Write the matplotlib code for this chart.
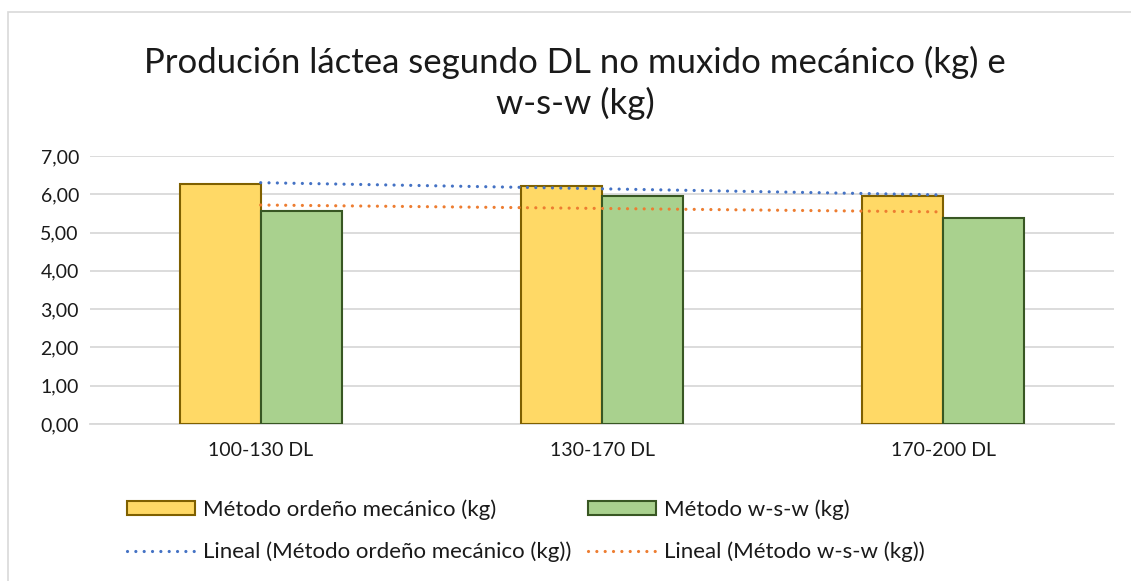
import matplotlib
matplotlib.use("Agg")
import matplotlib.pyplot as plt
import numpy as np
from matplotlib.patches import Rectangle, Patch
from matplotlib.lines import Line2D
from matplotlib.ticker import FuncFormatter, MultipleLocator

plt.rcParams['font.family'] = ['Lato', 'DejaVu Sans']

categories = ["100-130 DL", "130-170 DL", "170-200 DL"]
mecanico = [6.27, 6.21, 5.95]
wsw = [5.56, 5.95, 5.38]
series_names = ["Método ordeño mecánico (kg)", "Método w-s-w (kg)"]
trend_names = ["Lineal (Método ordeño mecánico (kg))", "Lineal (Método w-s-w (kg))"]
title = "Produción láctea segundo DL no muxido mecánico (kg) e\nw-s-w (kg)"

W, H = 1131, 581
fig = plt.figure(figsize=(W / 100, H / 100), dpi=100)

# chart-area border (light grey)
fig.patches.append(Rectangle((8 / W, -0.1), 1.2, 1 - 12 / H + 0.1, transform=fig.transFigure,
                             fill=False, edgecolor="#D9D9D9", linewidth=1.2, zorder=0))

ax = fig.add_axes([90 / W, (H - 424) / H, (1114 - 90) / W, (424 - 156) / H])

x = np.arange(len(categories))
bw = 0.237
yellow_face, yellow_edge = "#FFD966", "#7F6000"
green_face, green_edge = "#A9D18E", "#385723"
ax.bar(x - bw / 2, mecanico, width=bw, color=yellow_face, edgecolor=yellow_edge, linewidth=1.5, zorder=3)
ax.bar(x + bw / 2, wsw, width=bw, color=green_face, edgecolor=green_edge, linewidth=1.5, zorder=3)

dot = (0, (0.01, 2.6))
for vals, col in ((mecanico, "#4472C4"), (wsw, "#ED7D31")):
    m, b = np.polyfit(x, vals, 1)
    xx = np.array([x[0], x[-1]])
    ax.plot(xx, m * xx + b, color=col, linestyle=dot, linewidth=2.3,
            dash_capstyle="round", zorder=4)

ax.set_xlim(-0.5, len(categories) - 0.5)
ax.set_ylim(0, 7)
ax.yaxis.set_major_locator(MultipleLocator(1))
ax.yaxis.set_major_formatter(FuncFormatter(lambda v, p: f"{v:.2f}".replace(".", ",")))
ax.set_xticks(x)
ax.set_xticklabels(categories)
ax.grid(axis="y", color="#D9D9D9", linewidth=1.3, zorder=0)
ax.set_axisbelow(True)
for s in ("top", "right", "left"):
    ax.spines[s].set_visible(False)
ax.spines["bottom"].set_color("#D9D9D9")
ax.spines["bottom"].set_linewidth(1.3)
ax.tick_params(axis="both", length=0, labelsize=14, colors="#1a1a1a")
ax.tick_params(axis="y", pad=8)
ax.tick_params(axis="x", pad=13)

fig.text(575 / W, 1 - 83 / H, title, ha="center", va="center", fontsize=25,
         color="#1a1a1a", linespacing=1.3)

handles = [
    Patch(facecolor=yellow_face, edgecolor=yellow_edge, linewidth=1.5, label=series_names[0]),
    Line2D([0], [0], color="#4472C4", linestyle=dot, linewidth=2.3, dash_capstyle="round", label=trend_names[0]),
    Patch(facecolor=green_face, edgecolor=green_edge, linewidth=1.5, label=series_names[1]),
    Line2D([0], [0], color="#ED7D31", linestyle=dot, linewidth=2.3, dash_capstyle="round", label=trend_names[1]),
]
leg = fig.legend(handles=handles, ncol=2, loc="upper left",
                 bbox_to_anchor=(127 / W, 1 - 499 / H), frameon=False,
                 fontsize=16, handlelength=3.05, handleheight=0.63,
                 handletextpad=0.36, columnspacing=0.75, labelspacing=1.0,
                 borderpad=0, borderaxespad=0)
for t in leg.get_texts():
    t.set_color("#1a1a1a")

fig.savefig("out.png", dpi=100)
